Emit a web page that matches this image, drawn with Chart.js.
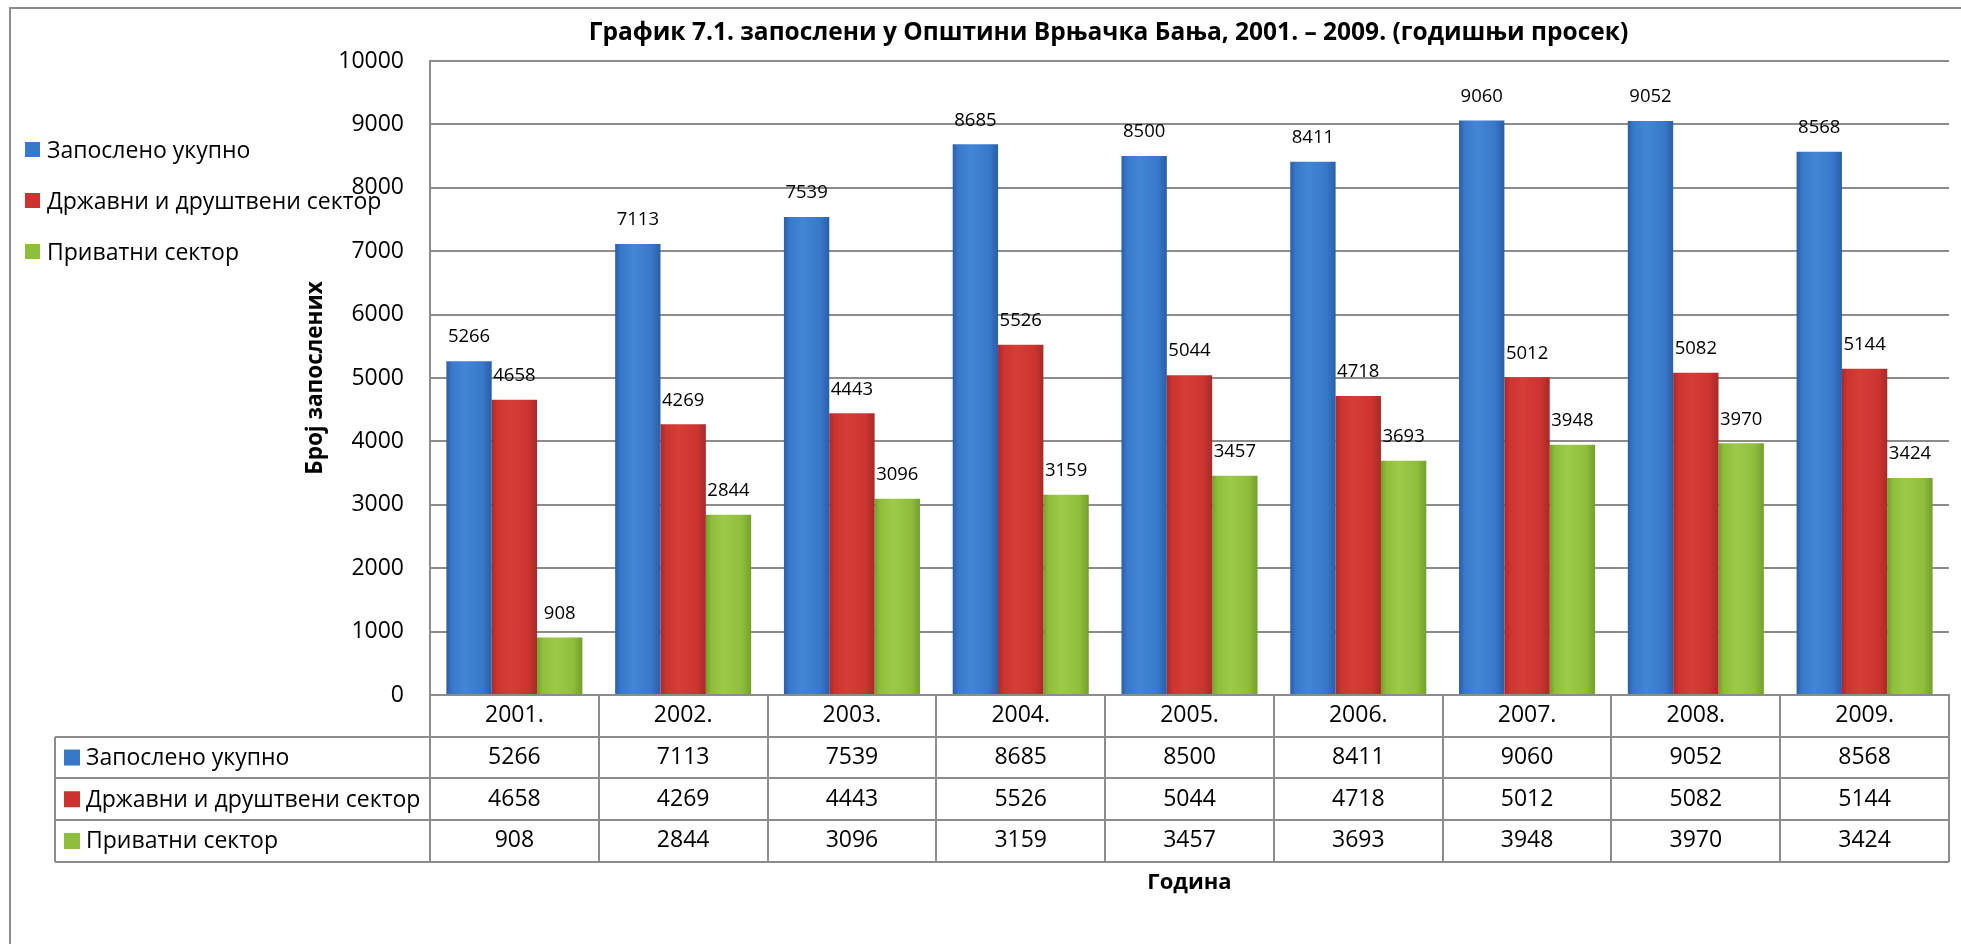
<!DOCTYPE html>
<html>
<head>
<meta charset="utf-8">
<script src="https://cdn.jsdelivr.net/npm/chart.js@4/dist/chart.umd.min.js"></script>
<style>
  html, body { margin: 0; padding: 0; background: #ffffff; }
  canvas { display: block; }
</style>
</head>
<body>
<canvas id="c" width="1961" height="944"></canvas>
<script>
// ---- data ----
const years = ['2001.', '2002.', '2003.', '2004.', '2005.', '2006.', '2007.', '2008.', '2009.'];
const seriesNames = ['Запослено укупно', 'Државни и друштвени сектор', 'Приватни сектор'];
const totalEmployed = [5266, 7113, 7539, 8685, 8500, 8411, 9060, 9052, 8568];
const stateSector = [4658, 4269, 4443, 5526, 5044, 4718, 5012, 5082, 5144];
const privateSector = [908, 2844, 3096, 3159, 3457, 3693, 3948, 3970, 3424];
const yTicks = [0, 1000, 2000, 3000, 4000, 5000, 6000, 7000, 8000, 9000, 10000];
const chartTitle = 'График 7.1. запослени у Општини Врњачка Бања, 2001. – 2009. (годишњи просек)';
const yTitle = 'Број запослених';
const xTitle = 'Година';

// ---- styles ----
const FONT = "'Open Sans', 'Noto Sans', sans-serif";
const GRID = '#8c8c8c';
const palette = [
  { base: '#3878c8', dark: '#2a5ea8', light: '#4386d6' },
  { base: '#cc3430', dark: '#a82a27', light: '#d63d36' },
  { base: '#8fbd3c', dark: '#73a02b', light: '#9dcb49' }
];
const CAT_PCT = 0.806;
const ROW_H = 41.7;
const seriesData = [totalEmployed, stateSector, privateSector];

Chart.defaults.font.family = FONT;
Chart.defaults.color = '#000000';

function barFill(p) {
  return (ctx) => {
    const chart = ctx.chart;
    const xs = chart.scales && chart.scales.x;
    if (!xs || ctx.type !== 'data' || !isFinite(xs.left)) return p.base;
    const catW = (xs.right - xs.left) / years.length;
    const groupW = catW * CAT_PCT;
    const bw = groupW / seriesData.length;
    const center = xs.getPixelForValue(ctx.dataIndex);
    const x0 = center - groupW / 2 + ctx.datasetIndex * bw;
    const g = chart.ctx.createLinearGradient(x0, 0, x0 + bw, 0);
    g.addColorStop(0, p.dark);
    g.addColorStop(0.12, p.base);
    g.addColorStop(0.4, p.light);
    g.addColorStop(0.8, p.base);
    g.addColorStop(1, p.dark);
    return g;
  };
}

const tableLabels = years.map((y, i) => [y].concat(seriesData.map(s => String(s[i]))));

// plugin: outer frame, legend, data table grid & row headers, value labels
const decor = {
  id: 'decor',
  beforeDraw(chart) {
    const c = chart.ctx;
    c.save();
    c.fillStyle = '#ffffff';
    c.fillRect(0, 0, chart.width, chart.height);
    c.strokeStyle = GRID;
    c.lineWidth = 2;
    c.beginPath();
    c.moveTo(10, chart.height);
    c.lineTo(10, 8);
    c.lineTo(chart.width, 8);
    c.stroke();
    c.restore();
  },
  afterDatasetsDraw(chart) {
    const c = chart.ctx;
    c.save();
    c.font = '18.5px ' + FONT;
    c.fillStyle = '#000000';
    c.textAlign = 'center';
    c.textBaseline = 'middle';
    chart.data.datasets.forEach((ds, di) => {
      const meta = chart.getDatasetMeta(di);
      meta.data.forEach((bar, i) => {
        c.fillText(String(ds.data[i]), bar.x, bar.y - 24);
      });
    });
    c.restore();
  },
  afterDraw(chart) {
    const c = chart.ctx;
    const xs = chart.scales.x;
    c.save();
    // legend (top-left)
    c.font = '23px ' + FONT;
    c.textBaseline = 'middle';
    c.textAlign = 'left';
    seriesNames.forEach((name, i) => {
      const cy = 150 + i * 51;
      c.fillStyle = palette[i].base;
      c.fillRect(25, cy - 8, 15, 15);
      c.fillStyle = '#000000';
      c.fillText(name, 47, cy + 1);
    });
    // table grid
    const top = xs.top;
    const left = xs.left;
    const right = xs.right;
    const tblLeft = 55;
    c.strokeStyle = GRID;
    c.lineWidth = 2;
    c.beginPath();
    for (let r = 1; r <= 4; r++) {
      const y = Math.round(top + r * ROW_H);
      c.moveTo(tblLeft, y);
      c.lineTo(right, y);
    }
    c.moveTo(tblLeft, Math.round(top + ROW_H));
    c.lineTo(tblLeft, Math.round(top + 4 * ROW_H));
    const catW = (right - left) / years.length;
    for (let k = 0; k <= years.length; k++) {
      const x = Math.round(k < years.length ? xs.getPixelForValue(k) - catW / 2 : right);
      c.moveTo(x, top);
      c.lineTo(x, Math.round(top + 4 * ROW_H));
    }
    c.stroke();
    // row headers
    c.font = '23px ' + FONT;
    seriesNames.forEach((name, i) => {
      const cy = top + (i + 1.5) * ROW_H;
      c.fillStyle = palette[i].base;
      c.fillRect(64, cy - 8, 16, 16);
      c.fillStyle = '#000000';
      c.fillText(name, 86, cy + 1);
    });
    c.restore();
  }
};

new Chart(document.getElementById('c'), {
  type: 'bar',
  data: {
    labels: tableLabels,
    datasets: seriesNames.map((name, i) => ({
      label: name,
      data: seriesData[i],
      backgroundColor: barFill(palette[i]),
      borderWidth: 0,
      barPercentage: 1,
      categoryPercentage: CAT_PCT
    }))
  },
  options: {
    responsive: false,
    animation: false,
    devicePixelRatio: 1,
    layout: { padding: { left: 268, right: 12, top: 0, bottom: 0 } },
    plugins: {
      legend: { display: false },
      tooltip: { enabled: false },
      title: {
        display: true,
        text: chartTitle,
        color: '#000000',
        font: { size: 24.5, weight: 'bold', family: FONT, lineHeight: 1.2 },
        padding: { top: 18.3, bottom: 13.3 }
      }
    },
    scales: {
      y: {
        min: 0,
        max: 10000,
        afterBuildTicks(scale) { scale.ticks = yTicks.map(v => ({ value: v })); },
        afterFit(scale) { scale.width = 162; },
        ticks: {
          padding: 26,
          color: '#000000',
          font: { size: 23, family: FONT },
          callback: (v) => String(v)
        },
        grid: { color: GRID, lineWidth: 2, drawTicks: false },
        border: { display: true, color: GRID, width: 2 },
        title: {
          display: true,
          text: yTitle,
          color: '#000000',
          font: { size: 22.5, weight: 'bold', family: FONT, lineHeight: 1.2 },
          padding: { top: 34.5, bottom: 0 }
        }
      },
      x: {
        afterFit(scale) { scale.height = 944 - 695; },
        ticks: {
          padding: 0,
          autoSkip: false,
          maxRotation: 0,
          minRotation: 0,
          color: '#000000',
          font: { size: 23, family: FONT, lineHeight: ROW_H + 'px' }
        },
        grid: { display: false, drawTicks: false },
        border: { display: true, color: GRID, width: 2 },
        title: {
          display: true,
          text: xTitle,
          color: '#000000',
          font: { size: 22, weight: 'bold', family: FONT, lineHeight: 1.2 },
          padding: { top: 0, bottom: 47.8 }
        }
      }
    }
  },
  plugins: [decor]
});
</script>
</body>
</html>
